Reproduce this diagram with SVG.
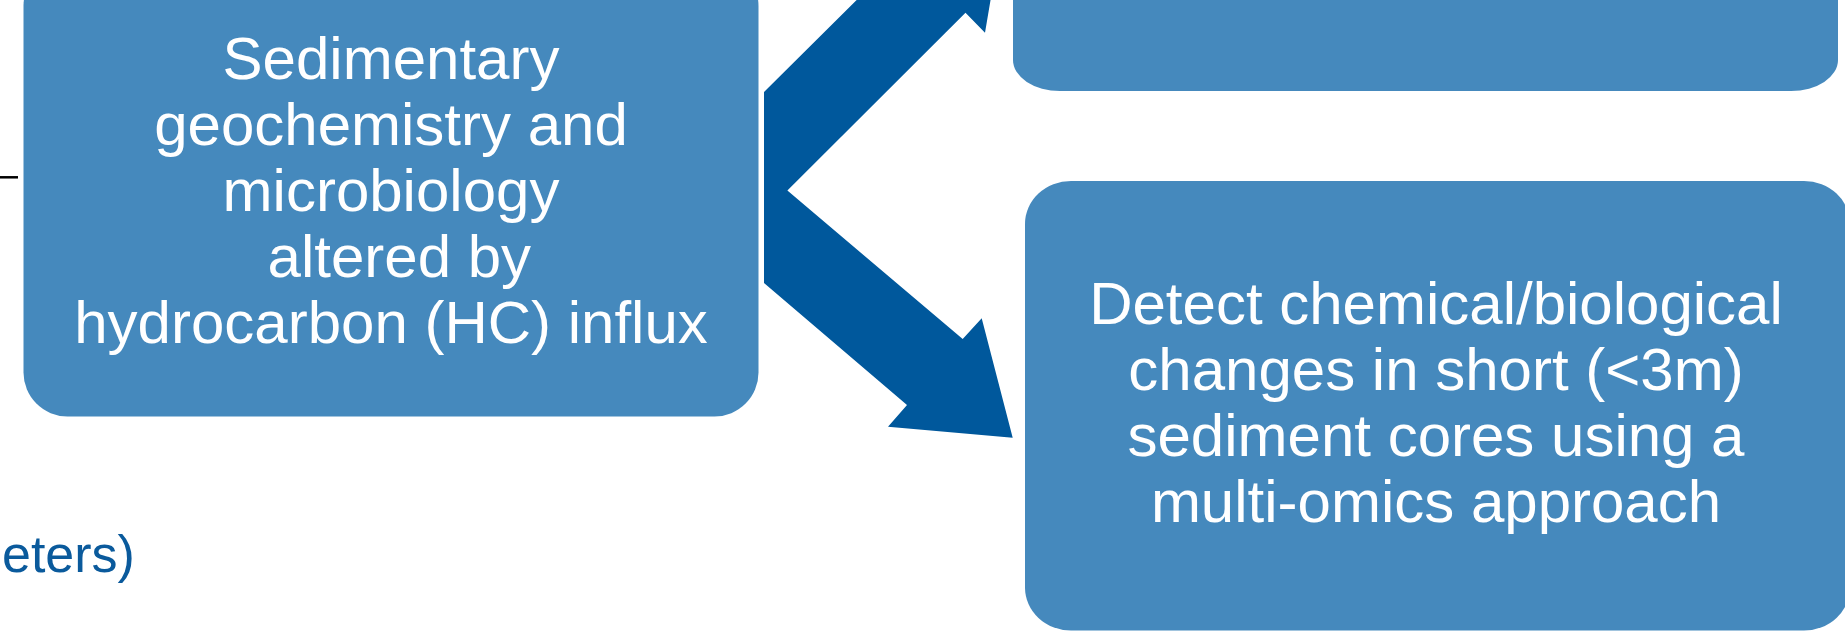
<svg xmlns="http://www.w3.org/2000/svg" width="1845" height="636" viewBox="0 0 1845 636">
<style>
.box{fill:#4589bd}
.lbl{font-family:"Liberation Sans",Arial,sans-serif;font-size:60px;fill:#ffffff;text-anchor:middle}
.arrow{fill:#00589c}
.note{font-family:"Liberation Sans",Arial,sans-serif;font-size:52px;fill:#0a5a9c}
</style>
<rect width="1845" height="636" fill="#ffffff"/>
<line x1="0" y1="177.3" x2="18" y2="177.3" stroke="#000000" stroke-width="2.5"/>
<text class="note" x="2" y="572">eters)</text>
<g id="connectors">
<path class="arrow" d="M764,92 L905,-48 L883.7,-68.6 L1005.7,-89.4 L985,32.7 L965.5,12.7 L787.4,190.6 L962.7,339 L981.7,318.3 L1012.7,437.7 L888,426.7 L907,405 L764,283 Z"/>
</g>
<g id="node-left">
<rect class="box" x="23.5" y="-38" width="735" height="454.5" rx="44" ry="44"/>
<text class="lbl" x="391" y="79">Sedimentary</text>
<text class="lbl" x="391" y="145">geochemistry and</text>
<text class="lbl" x="391" y="211">microbiology</text>
<text class="lbl" x="391" y="277" xml:space="preserve"> altered by</text>
<text class="lbl" x="391" y="343">hydrocarbon (HC) influx</text>
</g>
<g id="node-top-right">
<rect class="box" x="1013" y="-60" width="825" height="151" rx="47" ry="31"/>
</g>
<g id="node-bottom-right">
<rect class="box" x="1025" y="181" width="825" height="449.5" rx="46" ry="43"/>
<text class="lbl" x="1436" y="323.5">Detect chemical/biological</text>
<text class="lbl" x="1436" y="389.5">changes in short (&lt;3m)</text>
<text class="lbl" x="1436" y="455.5">sediment cores using a</text>
<text class="lbl" x="1436" y="521.5">multi-omics approach</text>
</g>
</svg>
